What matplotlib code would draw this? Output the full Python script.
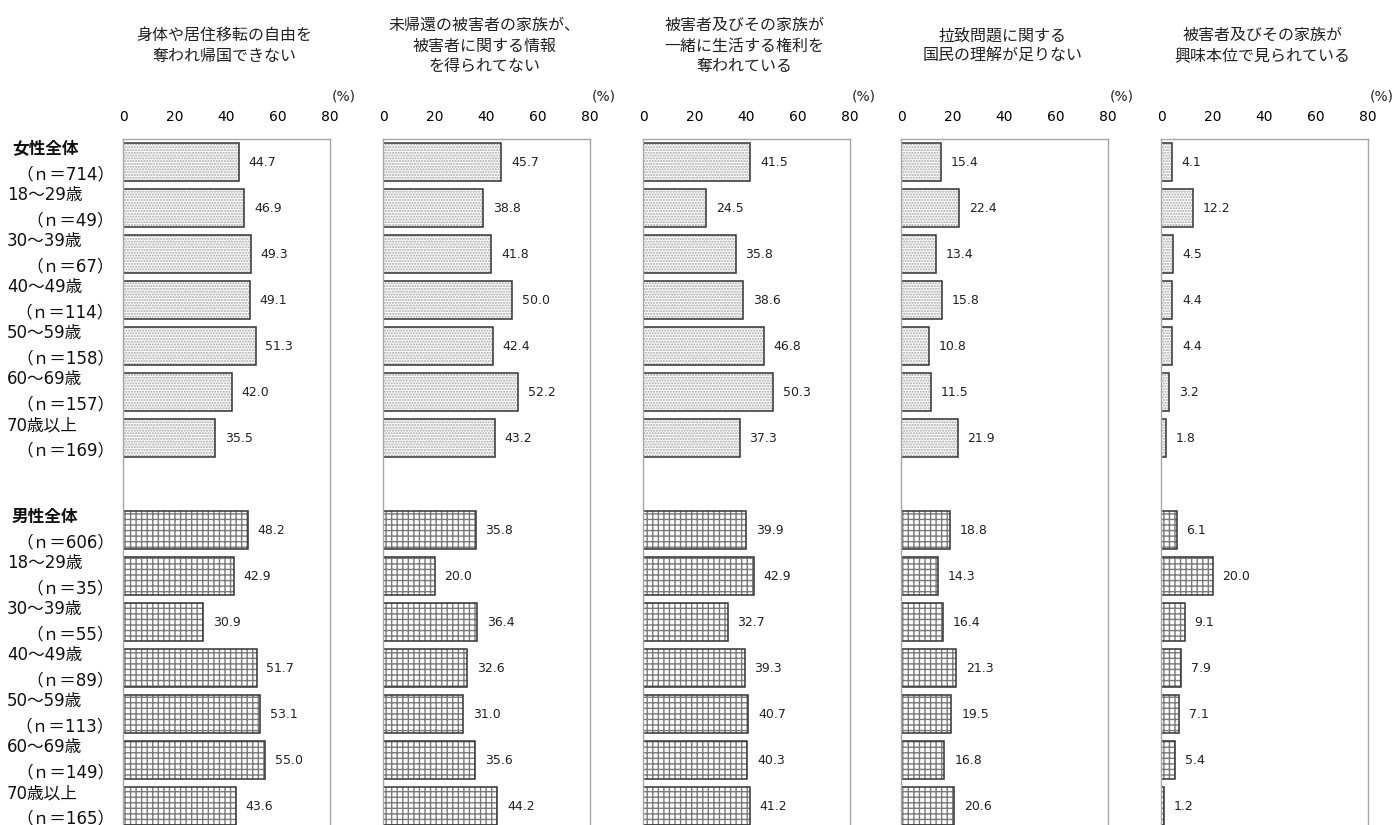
import matplotlib
matplotlib.use("Agg")
import matplotlib.pyplot as plt
from matplotlib.transforms import blended_transform_factory

plt.rcParams['font.family'] = ['DejaVu Sans', 'Noto Sans CJK JP']

titles = [
    "身体や居住移転の自由を\n奪われ帰国できない",
    "未帰還の被害者の家族が、\n被害者に関する情報\nを得られてない",
    "被害者及びその家族が\n一緒に生活する権利を\n奪われている",
    "拉致問題に関する\n国民の理解が足りない",
    "被害者及びその家族が\n興味本位で見られている",
]

female_groups = ["女性全体", "18～29歳", "30～39歳", "40～49歳", "50～59歳", "60～69歳", "70歳以上"]
female_n = [714, 49, 67, 114, 158, 157, 169]
male_groups = ["男性全体", "18～29歳", "30～39歳", "40～49歳", "50～59歳", "60～69歳", "70歳以上"]
male_n = [606, 35, 55, 89, 113, 149, 165]

female_vals = [
    [44.7, 46.9, 49.3, 49.1, 51.3, 42.0, 35.5],
    [45.7, 38.8, 41.8, 50.0, 42.4, 52.2, 43.2],
    [41.5, 24.5, 35.8, 38.6, 46.8, 50.3, 37.3],
    [15.4, 22.4, 13.4, 15.8, 10.8, 11.5, 21.9],
    [4.1, 12.2, 4.5, 4.4, 4.4, 3.2, 1.8],
]
male_vals = [
    [48.2, 42.9, 30.9, 51.7, 53.1, 55.0, 43.6],
    [35.8, 20.0, 36.4, 32.6, 31.0, 35.6, 44.2],
    [39.9, 42.9, 32.7, 39.3, 40.7, 40.3, 41.2],
    [18.8, 14.3, 16.4, 21.3, 19.5, 16.8, 20.6],
    [6.1, 20.0, 9.1, 7.9, 7.1, 5.4, 1.2],
]
xticks = [0, 20, 40, 60, 80]

W, H = 1393, 825
fig = plt.figure(figsize=(W / 100, H / 100), dpi=100)

panel_x0 = [123, 383, 643, 901, 1161]
pw = 207
top_px, bot_px = 139, 829

f_pos = list(range(7))
m_pos = list(range(8, 15))
bh = 0.84

axes = []
for i in range(5):
    ax = fig.add_axes([panel_x0[i] / W, (H - bot_px) / H, pw / W, (bot_px - top_px) / H])
    axes.append(ax)
    ax.set_xlim(0, 80)
    ax.set_ylim(14.5, -0.5)
    ax.xaxis.tick_top()
    ax.set_xticks(xticks)
    ax.set_xticklabels([str(t) for t in xticks], fontsize=10)
    ax.tick_params(axis='x', length=0, pad=11)
    ax.set_yticks([])
    for s in ax.spines.values():
        s.set_color('#a6a6a6')
        s.set_linewidth(1.0)

    # female bars
    ax.barh(f_pos, female_vals[i], height=bh, color='#fafafa', edgecolor='#a8a8a8',
            hatch='......', linewidth=0)
    ax.barh(f_pos, female_vals[i], height=bh, fill=False, edgecolor='#333333', linewidth=1.1)
    # male bars
    ax.barh(m_pos, male_vals[i], height=bh, color='white', edgecolor='#7a7a7a',
            hatch='+++', linewidth=0)
    ax.barh(m_pos, male_vals[i], height=bh, fill=False, edgecolor='#333333', linewidth=1.1)

    for p, v in zip(f_pos, female_vals[i]):
        ax.annotate(f"{v:.1f}", (v, p), xytext=(7, 0), textcoords='offset points',
                    va='center', ha='left', fontsize=9, color='#222222')
    for p, v in zip(m_pos, male_vals[i]):
        ax.annotate(f"{v:.1f}", (v, p), xytext=(7, 0), textcoords='offset points',
                    va='center', ha='left', fontsize=9, color='#222222')

    ax.text(1.065, 1.061, "(%)", transform=ax.transAxes, ha='center', va='center',
            fontsize=10, color='#222222')

    fig.text((panel_x0[i] + pw / 2 - 2) / W, 1 - 46 / H, titles[i], ha='center', va='center',
             fontsize=11.5, linespacing=1.45, color='#222222')

# category labels
tr = blended_transform_factory(fig.transFigure, axes[0].transData)
for groups, ns, pos in [(female_groups, female_n, f_pos), (male_groups, male_n, m_pos)]:
    for k, (g, n, p) in enumerate(zip(groups, ns, pos)):
        bold = (k == 0)
        x1 = (12 if bold else 7) / W
        fig.text(x1, p - 0.28, g, transform=tr, ha='left', va='center', fontsize=12,
                 fontweight='bold' if bold else 'normal', color='#111111')
        fig.text(114 / W, p + 0.27, f"（ｎ＝{n}）", transform=tr, ha='right', va='center',
                 fontsize=12, color='#111111')

fig.savefig("out.png", dpi=100)
